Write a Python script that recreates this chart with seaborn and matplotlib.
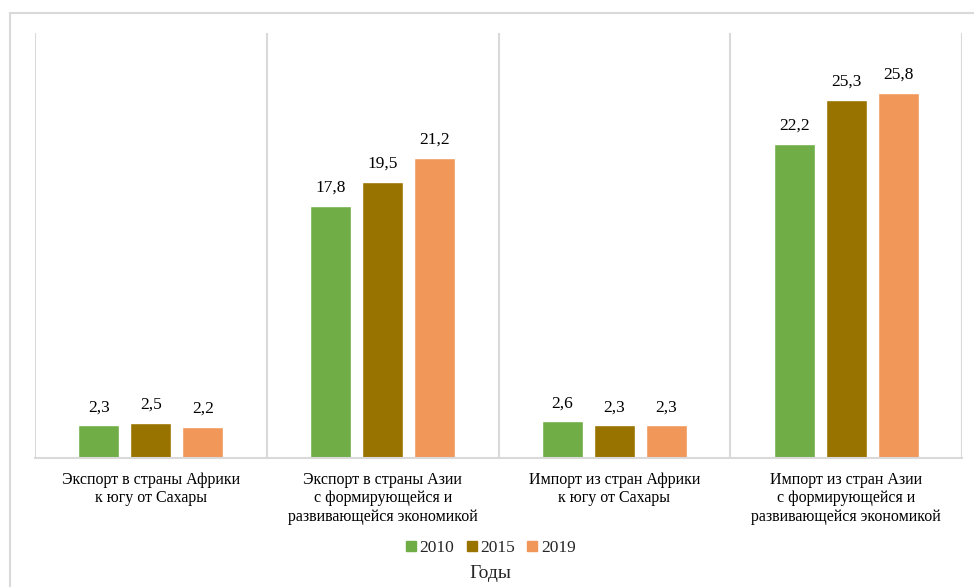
import pandas as pd
import matplotlib
matplotlib.use('Agg')
import matplotlib.pyplot as plt
import matplotlib.patches as mpatches
from matplotlib.lines import Line2D
import seaborn as sns

categories = [
    'Экспорт в страны Африки\nк югу от Сахары',
    'Экспорт в страны Азии\nс формирующейся и\nразвивающейся экономикой',
    'Импорт из стран Африки\nк югу от Сахары',
    'Импорт из стран Азии\nс формирующейся и\nразвивающейся экономикой',
]
years = ['2010', '2015', '2019']
values_2010 = [2.3, 17.8, 2.6, 22.2]
values_2015 = [2.5, 19.5, 2.3, 25.3]
values_2019 = [2.2, 21.2, 2.3, 25.8]
colors = ['#70AD47', '#997300', '#F1975A']

rows = []
for year, vals in zip(years, [values_2010, values_2015, values_2019]):
    for cat, v in zip(categories, vals):
        rows.append({'category': cat, 'year': year, 'value': v})
df = pd.DataFrame(rows)

sns.set_style('white')
plt.rcParams['font.family'] = ['Liberation Serif', 'DejaVu Serif']
fs = 11.5

fig = plt.figure(figsize=(9.74, 5.87), dpi=100)
ax = fig.add_axes([35 / 974, 1 - 458 / 587, (962 - 35) / 974, (458 - 33) / 587])

sns.barplot(data=df, x='category', y='value', hue='year', palette=colors,
            width=0.672, gap=0.21, legend=False, ax=ax, saturation=1)

for container in ax.containers:
    labels = [f'{b.get_height():.1f}'.replace('.', ',') for b in container]
    ax.bar_label(container, labels=labels, padding=7, fontsize=12.5, color='#000000')

ax.set_ylim(0, 30)
ax.set_xlim(-0.5, 3.5)
ax.set_yticks([])
ax.set_xlabel('')
ax.set_ylabel('')
for x in [-0.5, 0.5, 1.5, 2.5, 3.5]:
    ax.axvline(x, color='#D9D9D9', lw=1.5, zorder=0)
for s in ['top', 'left', 'right']:
    ax.spines[s].set_visible(False)
ax.spines['bottom'].set_color('#D9D9D9')
ax.spines['bottom'].set_linewidth(1.5)
ax.tick_params(axis='x', length=0, pad=10, labelsize=fs, colors='#000000')

handles = [Line2D([0], [0], marker='s', linestyle='', markersize=7,
                  markerfacecolor=c, markeredgecolor=c) for c in colors]
fig.legend(handles, years, loc='center', bbox_to_anchor=(0.503, 1 - 548 / 587),
           ncol=3, frameon=False, fontsize=12.5, handletextpad=0.1, columnspacing=0.6,
           handlelength=0.8)
fig.text(0.503, 1 - 573 / 587, 'Годы', ha='center', va='center', fontsize=14)

fig.patches.append(mpatches.Rectangle((10 / 974, -0.02), 1.0, 0.978 + 0.02,
                                      transform=fig.transFigure, fill=False,
                                      edgecolor='#D9D9D9', lw=1.5))

fig.savefig('out.png', dpi=100)
